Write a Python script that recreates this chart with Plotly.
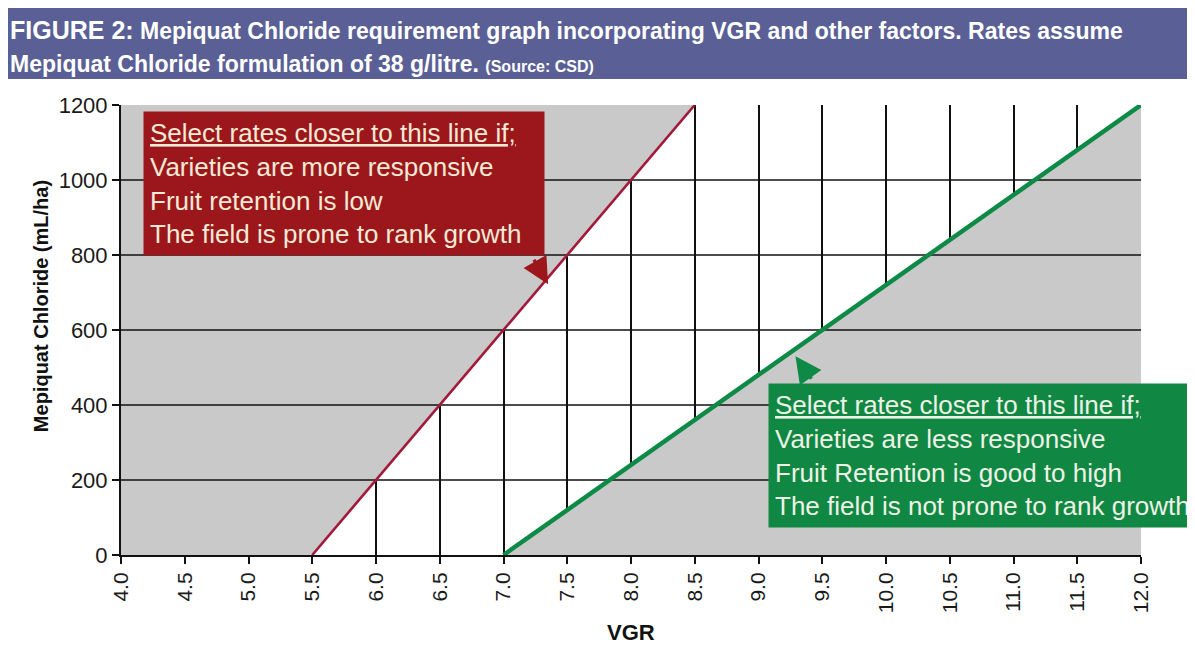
import plotly.graph_objects as go

# chart data
vgr_ticks = [4.0, 4.5, 5.0, 5.5, 6.0, 6.5, 7.0, 7.5, 8.0, 8.5, 9.0, 9.5, 10.0, 10.5, 11.0, 11.5, 12.0]
rate_ticks = [0, 200, 400, 600, 800, 1000, 1200]

# upper bound line (more responsive varieties)
red_vgr = [5.5, 6.0, 6.5, 7.0, 7.5, 8.0, 8.5]
red_rate = [0, 200, 400, 600, 800, 1000, 1200]

# lower bound line (less responsive varieties)
green_vgr = [7.0, 8.0, 9.0, 10.0, 11.0, 12.0]
green_rate = [0, 240, 480, 720, 960, 1200]

red_note = ["Select rates closer to this line if;",
            "Varieties are more responsive",
            "Fruit retention is low",
            "The field is prone to rank growth"]
green_note = ["Select rates closer to this line if;",
              "Varieties are less responsive",
              "Fruit Retention is good to high",
              "The field is not prone to rank growth"]

x_min, x_max = vgr_ticks[0], vgr_ticks[-1]
y_min, y_max = rate_ticks[0], rate_ticks[-1]

GRAY = "#C9C9C9"
RED = "#A3193A"
GREEN = "#0E8A47"
BOX_RED = "#9C171C"
BOX_GREEN = "#108843"
FONT = "Liberation Sans, Arial, sans-serif"

fig = go.Figure()

# grey zones outside the two lines
fig.add_trace(go.Scatter(
    x=[x_min, x_min] + red_vgr[::-1],
    y=[y_min, y_max] + red_rate[::-1],
    fill="toself", fillcolor=GRAY, mode="none", hoverinfo="skip", showlegend=False
))
fig.add_trace(go.Scatter(
    x=green_vgr + [x_max],
    y=green_rate + [y_min],
    fill="toself", fillcolor=GRAY, mode="none", hoverinfo="skip", showlegend=False
))

# horizontal grid lines drawn over the grey
hx, hy = [], []
for v in rate_ticks[1:-1]:
    hx += [x_min, x_max, None]
    hy += [v, v, None]
fig.add_trace(go.Scatter(x=hx, y=hy, mode="lines", line=dict(color="#111111", width=1.6),
                         hoverinfo="skip", showlegend=False))

fig.add_trace(go.Scatter(x=red_vgr, y=red_rate, mode="lines",
                         line=dict(color=RED, width=2.6), showlegend=False))
fig.add_trace(go.Scatter(x=green_vgr, y=green_rate, mode="lines",
                         line=dict(color=GREEN, width=4.5), showlegend=False))

# title banner
fig.add_shape(type="rect", xref="paper", yref="paper",
              x0=-0.13, x1=1.06, y0=1.0578, y1=1.23,
              fillcolor="#5A6095", line=dict(width=0), layer="above")
fig.add_annotation(
    xref="paper", yref="paper", x=-0.1108, y=1.1667,
    xanchor="left", yanchor="middle", align="left", showarrow=False,
    text=("<b><span style='font-size:25px'>FIGURE 2:</span> Mepiquat Chloride requirement graph "
          "incorporating VGR and other factors. Rates assume</b>"),
    font=dict(family=FONT, size=23, color="white")
)
fig.add_annotation(
    xref="paper", yref="paper", x=-0.1108, y=1.0911,
    xanchor="left", yanchor="middle", align="left", showarrow=False,
    text=("<b>Mepiquat Chloride formulation of 38 g/litre. "
          "<span style='font-size:16px'>(Source: CSD)</span></b>"),
    font=dict(family=FONT, size=23, color="white")
)

# note boxes
fig.add_annotation(
    xref="paper", yref="paper", x=0.0216, y=0.9867,
    xanchor="left", yanchor="top", align="left", showarrow=False,
    text="<u>" + red_note[0] + "</u><br>" + "<br>".join(red_note[1:]),
    font=dict(family=FONT, size=26, color="#F4EAD6"),
    bgcolor=BOX_RED, borderpad=6, width=388
)
fig.add_annotation(
    xref="paper", yref="paper", x=0.6343, y=0.3822,
    xanchor="left", yanchor="top", align="left", showarrow=False,
    text="<u>" + green_note[0] + "</u><br>" + "<br>".join(green_note[1:]),
    font=dict(family=FONT, size=26, color="#EEF2E6"),
    bgcolor=BOX_GREEN, borderpad=6, width=440
)

# pointer arrows
fig.add_annotation(x=7.35, y=722, ax=-15, ay=-26, text="", showarrow=True,
                   arrowhead=2, arrowsize=1.5, arrowwidth=3.5, arrowcolor=BOX_RED)
fig.add_annotation(x=9.29, y=530, ax=17, ay=24, text="", showarrow=True,
                   arrowhead=2, arrowsize=1.5, arrowwidth=3.5, arrowcolor=GREEN)

# axis titles
fig.add_annotation(xref="paper", yref="paper", x=-0.0912, y=0.553, textangle=-90,
                   showarrow=False, text="<b>Mepiquat Chloride (mL/ha)</b>",
                   font=dict(family=FONT, size=20, color="#111111"))
fig.add_annotation(xref="paper", yref="paper", x=0.5, y=-0.205, showarrow=False,
                   text="<b>VGR</b>", font=dict(family=FONT, size=22, color="#111111"))

fig.update_xaxes(
    range=[x_min, x_max], tickvals=vgr_ticks, ticktext=[f"{v:.1f}" for v in vgr_ticks],
    tickangle=-90, tickfont=dict(family=FONT, size=21, color="#1A1A1A"),
    showgrid=True, gridcolor="#111111", gridwidth=1.6,
    showline=True, linecolor="#111111", linewidth=2,
    ticks="outside", ticklen=7, tickwidth=2, tickcolor="#111111",
    zeroline=False, fixedrange=True
)
fig.update_yaxes(
    range=[y_min, y_max], tickvals=rate_ticks,
    tickfont=dict(family=FONT, size=22, color="#1A1A1A"),
    showgrid=False, showline=True, linecolor="#111111", linewidth=2,
    ticks="outside", ticklen=7, tickwidth=2, tickcolor="#111111",
    zeroline=False, fixedrange=True
)

# the page body adds an 8px offset, so the figure is 8px smaller and margins shifted
fig.update_layout(
    width=1187, height=642,
    margin=dict(l=113, r=54, t=97, b=95),
    plot_bgcolor="white", paper_bgcolor="white",
    showlegend=False
)

fig.write_html("out.html")
